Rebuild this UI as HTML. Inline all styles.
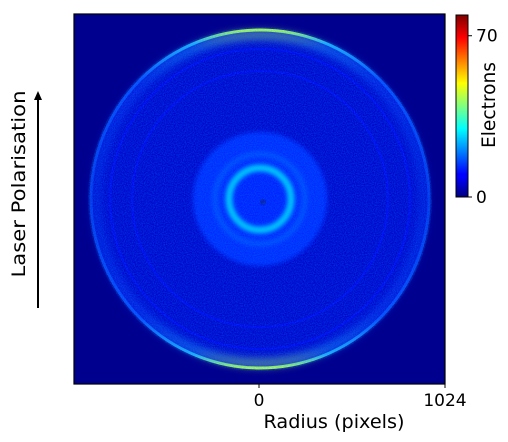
<!DOCTYPE html>
<html><head><meta charset="utf-8"><style>
body{margin:0;background:#fff;}
svg{display:block;font-family:"DejaVu Sans","Liberation Sans",sans-serif;}
</style></head><body>
<svg id="chart" width="508" height="442" viewBox="0 0 508 442">
<defs>
  <linearGradient id="jet" x1="0" y1="1" x2="0" y2="0">
    <stop offset="0" stop-color="#00007f"/>
    <stop offset="0.11" stop-color="#0000ff"/>
    <stop offset="0.125" stop-color="#0000ff"/>
    <stop offset="0.375" stop-color="#00ffff"/>
    <stop offset="0.625" stop-color="#ffff00"/>
    <stop offset="0.875" stop-color="#ff0000"/>
    <stop offset="1" stop-color="#7f0000"/>
  </linearGradient>
  <linearGradient id="outerGrad" x1="0" y1="0" x2="0" y2="1">
    <stop offset="0" stop-color="#b0ff50"/>
    <stop offset="0.04" stop-color="#20b0ff"/>
    <stop offset="0.15" stop-color="#0848ff"/>
    <stop offset="0.5" stop-color="#0430e8"/>
    <stop offset="0.85" stop-color="#0848ff"/>
    <stop offset="0.96" stop-color="#20b0ff"/>
    <stop offset="1" stop-color="#b0ff50"/>
  </linearGradient>
  <filter id="soft" x="-20%" y="-20%" width="140%" height="140%"><feGaussianBlur stdDeviation="2"/></filter>
  <filter id="soft4" x="-20%" y="-20%" width="140%" height="140%"><feGaussianBlur stdDeviation="4"/></filter>
  <filter id="noise" x="0" y="0" width="100%" height="100%">
    <feTurbulence type="fractalNoise" baseFrequency="0.9" numOctaves="1" seed="3" result="n"/>
    <feColorMatrix in="n" type="matrix" values="0 0 0 0 0  0 0 0 0 0.3  0 0 0 0 1  0 0 0 0.6 -0.15" result="nc"/>
    <feComposite in="nc" in2="SourceGraphic" operator="in"/>
  </filter>
  <clipPath id="plotClip"><rect x="74" y="14" width="371" height="370"/></clipPath>
</defs>
<g id="plot" clip-path="url(#plotClip)">
  <rect x="74" y="14" width="371" height="370" fill="#00008f"/>
</g>
<rect x="74" y="14" width="371" height="370" fill="none" stroke="#000" stroke-width="1.2"/>
<g id="xticks"></g>
<text x="334" y="428" font-size="19" text-anchor="middle" textLength="141" lengthAdjust="spacingAndGlyphs">Radius (pixels)</text>
<text transform="translate(25,184) rotate(-90)" font-size="19" text-anchor="middle" textLength="187" lengthAdjust="spacingAndGlyphs">Laser Polarisation</text>
<line x1="38" y1="308" x2="38" y2="96" stroke="#000" stroke-width="2"/>
<path d="M34,100 L38,91 L42,100 Z" fill="#000"/>
<rect x="456" y="15" width="12" height="182" fill="url(#jet)" stroke="#000" stroke-width="1"/>
<g id="cbticks"></g>
<text transform="translate(495,105) rotate(-90)" font-size="19" text-anchor="middle" textLength="86" lengthAdjust="spacingAndGlyphs">Electrons</text>
</svg>
<script>
// data
const xTickValues = [0, 1024];
const cbTickValues = [0, 70];
const cbMax = 79;
const ringRadii = [169, 150, 128, 45, 31];
const ringIntensity = [0, 9, 9, 16, 28];
const ringWidth = [3, 2, 2, 5, 7];
const diskRadii = [169, 67, 36];
const diskIntensity = [6, 13, 12];

const NS = "http://www.w3.org/2000/svg";
const cx = 260, cy = 199;
const xScale = v => 259 + v * (445 - 259) / 1024;
const cbScale = v => 197 - v * (197 - 15) / cbMax;
function jet(v){
  const t = Math.max(0, Math.min(1, v / cbMax));
  const r = Math.max(0, Math.min(1, 1.5 - Math.abs(4*t - 3)));
  const g = Math.max(0, Math.min(1, 1.5 - Math.abs(4*t - 2)));
  const b = Math.max(0, Math.min(1, 1.5 - Math.abs(4*t - 1)));
  return `rgb(${Math.round(r*255)},${Math.round(g*255)},${Math.round(b*255)})`;
}
const plot = document.getElementById('plot');
diskRadii.forEach((r, i) => {
  const c = document.createElementNS(NS, 'circle');
  c.setAttribute('cx', cx); c.setAttribute('cy', cy); c.setAttribute('r', r);
  c.setAttribute('fill', jet(diskIntensity[i]));
  if (i > 0) c.setAttribute('filter', 'url(#soft)');
  
  
  plot.appendChild(c);
});
const glow = document.createElementNS(NS, 'circle');
glow.setAttribute('cx', cx); glow.setAttribute('cy', cy); glow.setAttribute('r', ringRadii[0] - 5);
glow.setAttribute('fill', 'none');
glow.setAttribute('stroke', 'url(#outerGrad)');
glow.setAttribute('stroke-width', 10);
glow.setAttribute('opacity', 0.45);
glow.setAttribute('filter', 'url(#soft4)');


plot.appendChild(glow);
ringRadii.forEach((r, i) => {
  const c = document.createElementNS(NS, 'circle');
  c.setAttribute('cx', cx); c.setAttribute('cy', cy); c.setAttribute('r', r);
  c.setAttribute('fill', 'none');
  c.setAttribute('stroke', i === 0 ? 'url(#outerGrad)' : jet(ringIntensity[i]));
  c.setAttribute('stroke-width', ringWidth[i]);
  c.setAttribute('opacity', i === 0 ? 1 : 0.85);
  if (i >= 3) c.setAttribute('filter', 'url(#soft)');
  
  
  plot.appendChild(c);
});
const dot = document.createElementNS(NS, 'circle');
dot.setAttribute('cx', cx + 3); dot.setAttribute('cy', cy + 3); dot.setAttribute('r', 3);
dot.setAttribute('fill', '#0818b0');


plot.appendChild(dot);
const nz = document.createElementNS(NS, 'circle');
nz.setAttribute('cx', cx); nz.setAttribute('cy', cy); nz.setAttribute('r', 172);
nz.setAttribute('fill', '#000');
nz.setAttribute('filter', 'url(#noise)');


plot.appendChild(nz);

const xt = document.getElementById('xticks');
xTickValues.forEach(v => {
  const x = xScale(v);
  const l = document.createElementNS(NS, 'line');
  l.setAttribute('x1', x); l.setAttribute('x2', x); l.setAttribute('y1', 384); l.setAttribute('y2', 388);
  l.setAttribute('stroke', '#000');
  
  
  xt.appendChild(l);
  const t = document.createElementNS(NS, 'text');
  t.setAttribute('x', x); t.setAttribute('y', 406); t.setAttribute('font-size', '17');
  t.setAttribute('text-anchor', 'middle');
  t.textContent = v;
  
  
  xt.appendChild(t);
});
const cb = document.getElementById('cbticks');
cbTickValues.forEach(v => {
  const y = cbScale(v);
  const l = document.createElementNS(NS, 'line');
  l.setAttribute('x1', 468); l.setAttribute('x2', 472); l.setAttribute('y1', y); l.setAttribute('y2', y);
  l.setAttribute('stroke', '#000');
  
  
  cb.appendChild(l);
  const t = document.createElementNS(NS, 'text');
  t.setAttribute('x', 476); t.setAttribute('y', y + 6); t.setAttribute('font-size', '17');
  t.textContent = v;
  
  
  cb.appendChild(t);
});
</script>
</body></html>
